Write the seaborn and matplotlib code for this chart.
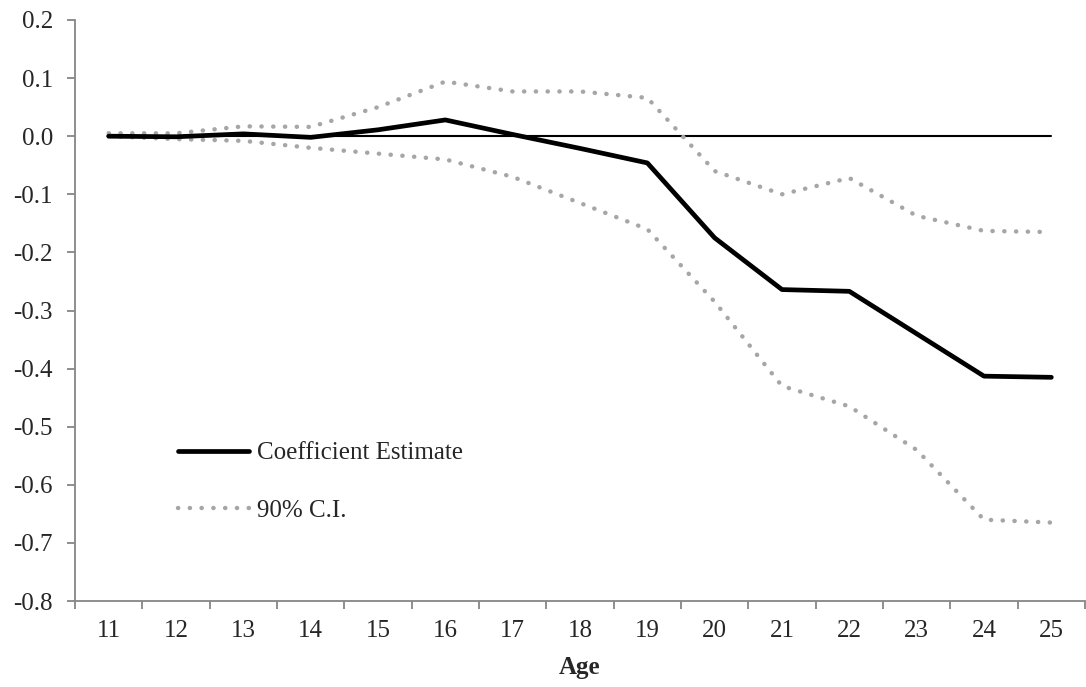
"""Event-study style chart: coefficient estimate by age with 90% C.I."""

import numpy as np
import pandas as pd
import matplotlib

matplotlib.use("Agg")
import matplotlib.pyplot as plt
from matplotlib.ticker import FixedLocator, NullFormatter
import seaborn as sns

# ---- Data -----------------------------------------------------------------
ages = [11, 12, 13, 14, 15, 16, 17, 18, 19, 20, 21, 22, 23, 24, 25]
coef = [0.000, -0.001, 0.004, -0.002, 0.011, 0.028, 0.003, -0.021, -0.046,
        -0.175, -0.264, -0.267, -0.340, -0.413, -0.415]
ci_upper = [0.005, 0.005, 0.017, 0.016, 0.050, 0.094, 0.077, 0.077, 0.066,
            -0.060, -0.100, -0.072, -0.137, -0.163, -0.165]
ci_lower = [0.000, -0.005, -0.008, -0.020, -0.030, -0.040, -0.070, -0.115, -0.160,
            -0.285, -0.430, -0.465, -0.540, -0.660, -0.665]
y_ticks = [0.2, 0.1, 0.0, -0.1, -0.2, -0.3, -0.4, -0.5, -0.6, -0.7, -0.8]

df = pd.DataFrame({"age": ages, "coef": coef, "upper": ci_upper, "lower": ci_lower})

sns.set_style("white")
plt.rcParams["font.family"] = ["Liberation Serif", "DejaVu Serif"]

SPINE = "#868686"
CI_GREY = "#A6A6A6"
FS = 18

fig = plt.figure(figsize=(10.86, 6.87), dpi=100)
ax = fig.add_axes([75 / 1086, 86 / 687, 1010 / 1086, 581 / 687])

ax.axhline(0, xmin=0.5 / 15, xmax=1 - 0.5 / 15, color="black", lw=1.5, zorder=1)

dotted = dict(color=CI_GREY, lw=3.2)
sns.lineplot(data=df, x="age", y="upper", ax=ax, label="90% C.I.", **dotted)
sns.lineplot(data=df, x="age", y="lower", ax=ax, label="_nolegend_", **dotted)
sns.lineplot(data=df, x="age", y="coef", ax=ax, color="black", lw=3.4,
             label="Coefficient Estimate", zorder=3)
for line in ax.get_lines()[1:3]:
    line.set_linestyle((0, (0.05, 2.6)))
    line.set_dash_capstyle("round")

ax.set_xlim(10.5, 25.5)
ax.set_ylim(-0.8, 0.2)

# category-style x axis: labels centred, ticks on the boundaries
ax.set_xticks(ages)
ax.set_xticklabels([str(a) for a in ages])
ax.xaxis.set_minor_locator(FixedLocator(np.arange(10.5, 26, 1.0)))
ax.xaxis.set_minor_formatter(NullFormatter())
ax.tick_params(axis="x", which="major", bottom=True, length=0, pad=14,
               labelsize=FS)
ax.tick_params(axis="x", which="minor", bottom=True, length=5.5, width=1.3,
               color=SPINE, direction="out")

ax.set_yticks(y_ticks)
ax.set_yticklabels([f"{v:.1f}" if abs(v) > 1e-9 else "0.0" for v in y_ticks])
ax.tick_params(axis="y", left=True, length=6, width=1.3, color=SPINE,
               direction="out", labelsize=FS, pad=10)

for side in ("top", "right"):
    ax.spines[side].set_visible(False)
for side in ("left", "bottom"):
    ax.spines[side].set_color(SPINE)
    ax.spines[side].set_linewidth(1.3)

ax.set_xlabel("Age", fontsize=FS, fontweight="bold", labelpad=10)
ax.set_ylabel("")

handles, labels = ax.get_legend_handles_labels()
order = [labels.index("Coefficient Estimate"), labels.index("90% C.I.")]
ax.legend([handles[i] for i in order], [labels[i] for i in order],
          loc="upper left", bbox_to_anchor=(0.102, 0.274), frameon=False,
          fontsize=FS, handlelength=2.85, handletextpad=0.3, labelspacing=1.4,
          borderpad=0, borderaxespad=0)

fig.savefig("out.png", dpi=100)
plt.close(fig)
